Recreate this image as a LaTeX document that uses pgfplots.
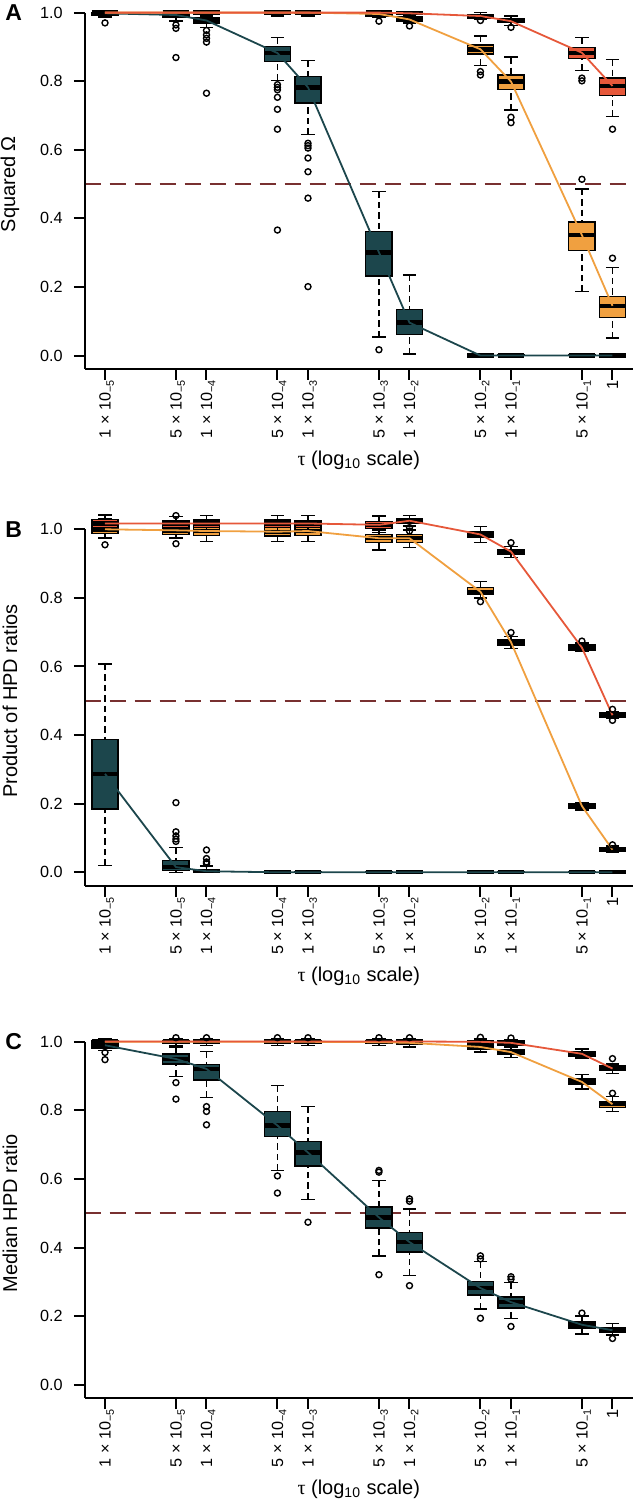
\documentclass[border=0pt]{standalone}
\usepackage{pgfplots}
\pgfplotsset{compat=1.18}
\usepgfplotslibrary{statistics}
\usepackage{fontspec}
\setmainfont{Liberation Sans}
\newfontfamily\serifg{Liberation Serif}
\definecolor{cT}{RGB}{28,70,76}
\definecolor{cO}{RGB}{240,160,64}
\definecolor{cR}{RGB}{230,88,58}
\definecolor{cD}{RGB}{120,48,48}
\newcommand\tl[2]{#1 × 10\raisebox{-1.7pt}[0pt][0pt]{\fontsize{5.4}{6}\selectfont −#2}}
\pgfplotsset{
  bxs/.style={
    boxplot/draw direction=y,
    boxplot/every box/.style={draw=black, line width=0.7pt, fill=#1},
    mark=o, mark size=1.5pt,
    mark options={draw=black, fill=none, solid, line width=0.7pt},
  },
  boxplot/draw direction=y,
  boxplot/box extend=0.26,
  boxplot/whisker extend=0.13,
  boxplot/every median/.style={draw=black, line width=2.2pt},
  boxplot/every whisker/.style={draw=black, line width=0.7pt},
  boxplot/draw/lower whisker/.code={%
    \draw[/pgfplots/boxplot/every whisker/.try, dash pattern=on 3.2pt off 2pt]
      (boxplot box cs:\pgfplotsboxplotvalue{lower whisker},0.5) --
      (boxplot box cs:\pgfplotsboxplotvalue{lower quartile},0.5);
    \draw[/pgfplots/boxplot/every whisker/.try]
      (boxplot whisker cs:\pgfplotsboxplotvalue{lower whisker},0) --
      (boxplot whisker cs:\pgfplotsboxplotvalue{lower whisker},1);
  },
  boxplot/draw/upper whisker/.code={%
    \draw[/pgfplots/boxplot/every whisker/.try, dash pattern=on 3.2pt off 2pt]
      (boxplot box cs:\pgfplotsboxplotvalue{upper whisker},0.5) --
      (boxplot box cs:\pgfplotsboxplotvalue{upper quartile},0.5);
    \draw[/pgfplots/boxplot/every whisker/.try]
      (boxplot whisker cs:\pgfplotsboxplotvalue{upper whisker},0) --
      (boxplot whisker cs:\pgfplotsboxplotvalue{upper whisker},1);
  },
  panel/.style={
    scale only axis, width=274.05pt, height=185.2pt,
    anchor=south west,
    xmin=-5.2, xmax=0.2, ymin=-0.04, ymax=1.04,
    axis lines=left,
    axis line style={-},
    x axis line style={line width=1pt},
    y axis line style={draw=none},
    clip=false,
    tick align=outside, major tick length=5.35pt,
    tick style={black, line width=1pt},
    xtick={-5,-4.30103,-4,-3.30103,-3,-2.30103,-2,-1.30103,-1,-0.30103,0},
    xticklabels={\tl15,\tl55,\tl14,\tl54,\tl13,\tl53,\tl12,\tl52,\tl11,\tl51,1},
    ytick={0,0.2,0.4,0.6,0.8,1},
    yticklabels={0.0,0.2,0.4,0.6,0.8,1.0},
    tick label style={font=\fontsize{8.1}{9}\selectfont},
    xticklabel style={rotate=90, anchor=east, inner sep=0pt},
    yticklabel style={anchor=east, inner sep=0pt, xshift=-5.5pt},
    ylabel style={font=\fontsize{10.5}{12}\selectfont},
    xlabel style={font=\fontsize{11.2}{13}\selectfont},
    every axis x label/.style={at={(axis description cs:0.5,-0.2584)}, anchor=base, inner sep=0pt},
    every axis y label/.style={at={(axis description cs:-0.1363,0.5)}, rotate=90, anchor=center, inner sep=0pt},
    xlabel={{\serifg τ} (log\textsubscript{10} scale)},
  },
}
\newcommand\bx[7]{\addplot[boxplot prepared={draw direction=y,draw position=#2,lower whisker=#3,lower quartile=#4,median=#5,upper quartile=#6,upper whisker=#7},bxs=#1] coordinates {};}
\newcommand\bxo[8]{\addplot[boxplot prepared={draw direction=y,draw position=#2,lower whisker=#3,lower quartile=#4,median=#5,upper quartile=#6,upper whisker=#7},bxs=#1] table[row sep=\\,y index=0]{v\\#8};}
\newcommand\halfline{\addplot[cD, line width=1.2pt, dash pattern=on 8.3pt off 4.2pt] coordinates {(-5.2,0.5) (0.2,0.5)};}
\newcommand\lframe{\draw[line width=1pt] (axis cs:-5.2,1) -- (axis cs:-5.2,-0.04);}
\newcommand\plab[1]{\node[anchor=west, inner sep=0pt, font=\bfseries\fontsize{11.5}{13}\selectfont] at (axis description cs:-0.1454,0.963) {#1};}

\begin{document}
\begin{tikzpicture}
\useasboundingbox (0,0) rectangle (317pt,753pt);
% ---------------- Panel A ----------------
\begin{axis}[panel, at={(42.35pt,568.35pt)}, ylabel={Squared Ω}]
\halfline
\bxo{cT}{-5}{0.985}{0.993}{0.998}{1.0}{1.0}{0.970\\}
\bxo{cT}{-4.30103}{0.975}{0.985}{0.993}{0.999}{1.0}{0.964\\0.954\\0.869\\}
\bxo{cT}{-4}{0.957}{0.969}{0.977}{0.984}{1.0}{0.948\\0.935\\0.925\\0.914\\0.765\\}
\bxo{cT}{-3.30103}{0.802}{0.857}{0.882}{0.901}{0.928}{0.790\\0.782\\0.775\\0.753\\0.718\\0.660\\0.366\\}
\bxo{cT}{-3}{0.645}{0.736}{0.782}{0.813}{0.860}{0.619\\0.612\\0.605\\0.576\\0.536\\0.459\\0.201\\}
\bxo{cT}{-2.30103}{0.054}{0.232}{0.301}{0.362}{0.478}{0.017\\}
\bx{cT}{-2}{0.004}{0.062}{0.096}{0.135}{0.235}
\bx{cT}{-1.30103}{0}{0}{0}{0.002}{0.004}
\bx{cT}{-1}{0}{0}{0}{0.002}{0.004}
\bx{cT}{-0.30103}{0}{0}{0}{0.002}{0.004}
\bx{cT}{0}{0}{0}{0}{0.002}{0.004}
%
\bx{cO}{-5}{0.99}{0.997}{1}{1}{1}
\bx{cO}{-4.30103}{0.99}{0.997}{1}{1}{1}
\bx{cO}{-4}{0.99}{0.997}{1}{1}{1}
\bx{cO}{-3.30103}{0.99}{0.997}{1}{1}{1}
\bx{cO}{-3}{0.99}{0.997}{1}{1}{1}
\bxo{cO}{-2.30103}{0.985}{0.99}{0.996}{1}{1}{0.975\\}
\bxo{cO}{-2}{0.97}{0.975}{0.98}{0.987}{0.995}{0.961\\}
\bxo{cO}{-1.30103}{0.845}{0.879}{0.893}{0.906}{0.932}{0.828\\0.818\\}
\bxo{cO}{-1}{0.716}{0.775}{0.799}{0.818}{0.870}{0.695\\0.679\\}
\bxo{cO}{-0.30103}{0.186}{0.306}{0.351}{0.389}{0.486}{0.514\\}
\bxo{cO}{0}{0.051}{0.111}{0.145}{0.172}{0.257}{0.284\\}
%
\bx{cR}{-5}{0.993}{0.998}{1}{1}{1}
\bx{cR}{-4.30103}{0.993}{0.998}{1}{1}{1}
\bx{cR}{-4}{0.993}{0.998}{1}{1}{1}
\bx{cR}{-3.30103}{0.993}{0.998}{1}{1}{1}
\bx{cR}{-3}{0.993}{0.998}{1}{1}{1}
\bx{cR}{-2.30103}{0.993}{0.998}{1}{1}{1}
\bx{cR}{-2}{0.993}{0.996}{0.998}{1}{1}
\bxo{cR}{-1.30103}{0.98}{0.984}{0.99}{0.993}{1}{0.977\\}
\bxo{cR}{-1}{0.962}{0.971}{0.975}{0.981}{0.99}{0.957\\}
\bxo{cR}{-0.30103}{0.831}{0.867}{0.883}{0.898}{0.928}{0.809\\0.801\\}
\bxo{cR}{0}{0.697}{0.758}{0.786}{0.809}{0.864}{0.660\\}
%
\addplot[cT, line width=0.9pt] coordinates {(-5,0.998) (-4.30103,0.993) (-4,0.977) (-3.30103,0.882) (-3,0.782) (-2.30103,0.301) (-2,0.096) (-1.30103,0) (-1,0) (-0.30103,0) (0,0)};
\addplot[cO, line width=0.9pt] coordinates {(-5,1) (-4.30103,1) (-4,1) (-3.30103,1) (-3,1) (-2.30103,0.996) (-2,0.98) (-1.30103,0.893) (-1,0.799) (-0.30103,0.351) (0,0.145)};
\addplot[cR, line width=0.9pt] coordinates {(-5,1) (-4.30103,1) (-4,1) (-3.30103,1) (-3,1) (-2.30103,1) (-2,0.998) (-1.30103,0.99) (-1,0.975) (-0.30103,0.883) (0,0.786)};
\lframe
\plab{A}
\end{axis}
% ---------------- Panel B ----------------
\begin{axis}[panel, at={(42.35pt,310pt)}, ylabel={Product of HPD ratios}]
\halfline
\bx{cT}{-5}{0.02}{0.184}{0.287}{0.388}{0.607}
\bxo{cT}{-4.30103}{0}{0.005}{0.015}{0.035}{0.072}{0.203\\0.118\\0.106\\0.097\\0.090\\}
\bxo{cT}{-4}{0}{0}{0.003}{0.008}{0.018}{0.065\\0.040\\0.030\\0.025\\}
\bx{cT}{-3.30103}{0}{0}{0}{0.001}{0.002}
\bx{cT}{-3}{0}{0}{0}{0.001}{0.002}
\bx{cT}{-2.30103}{0}{0}{0}{0.001}{0.002}
\bx{cT}{-2}{0}{0}{0}{0.001}{0.002}
\bx{cT}{-1.30103}{0}{0}{0}{0.001}{0.002}
\bx{cT}{-1}{0}{0}{0}{0.001}{0.002}
\bx{cT}{-0.30103}{0}{0}{0}{0.001}{0.002}
\bx{cT}{0}{0}{0}{0}{0.001}{0.002}
%
\bxo{cO}{-5}{0.975}{0.988}{1.0}{1.012}{1.03}{0.955\\}
\bxo{cO}{-4.30103}{0.975}{0.985}{0.997}{1.01}{1.025}{0.958\\}
\bx{cO}{-4}{0.965}{0.982}{0.995}{1.008}{1.025}
\bx{cO}{-3.30103}{0.965}{0.98}{0.993}{1.005}{1.025}
\bx{cO}{-3}{0.965}{0.982}{0.995}{1.007}{1.025}
\bx{cO}{-2.30103}{0.94}{0.962}{0.974}{0.985}{0.998}
\bx{cO}{-2}{0.947}{0.962}{0.974}{0.985}{0.998}
\bxo{cO}{-1.30103}{0.80}{0.811}{0.818}{0.83}{0.847}{0.789\\}
\bxo{cO}{-1}{0.653}{0.663}{0.671}{0.679}{0.688}{0.699\\}
\bx{cO}{-0.30103}{0.182}{0.187}{0.193}{0.199}{0.204}
\bxo{cO}{0}{0.058}{0.062}{0.066}{0.073}{0.077}{0.080\\}
%
\bx{cR}{-5}{0.995}{1.005}{1.017}{1.028}{1.042}
\bxo{cR}{-4.30103}{0.995}{1.005}{1.017}{1.025}{1.038}{1.040\\}
\bx{cR}{-4}{0.995}{1.005}{1.017}{1.027}{1.04}
\bx{cR}{-3.30103}{0.995}{1.005}{1.017}{1.027}{1.04}
\bx{cR}{-3}{0.995}{1.005}{1.017}{1.025}{1.04}
\bx{cR}{-2.30103}{0.99}{1.002}{1.013}{1.022}{1.039}
\bxo{cR}{-2}{1.01}{1.017}{1.025}{1.032}{1.04}{1.005\\0.995\\}
\bx{cR}{-1.30103}{0.961}{0.976}{0.985}{0.993}{1.008}
\bxo{cR}{-1}{0.918}{0.928}{0.935}{0.942}{0.95}{0.961\\}
\bxo{cR}{-0.30103}{0.645}{0.648}{0.655}{0.663}{0.668}{0.674\\}
\bxo{cR}{0}{0.45}{0.452}{0.458}{0.465}{0.468}{0.475\\0.443\\}
%
\addplot[cT, line width=0.9pt] coordinates {(-5,0.287) (-4.30103,0.015) (-4,0.003) (-3.30103,0) (-3,0) (-2.30103,0) (-2,0) (-1.30103,0) (-1,0) (-0.30103,0) (0,0)};
\addplot[cO, line width=0.9pt] coordinates {(-5,1.0) (-4.30103,0.997) (-4,0.995) (-3.30103,0.993) (-3,0.995) (-2.30103,0.974) (-2,0.974) (-1.30103,0.818) (-1,0.671) (-0.30103,0.193) (0,0.066)};
\addplot[cR, line width=0.9pt] coordinates {(-5,1.017) (-4.30103,1.017) (-4,1.017) (-3.30103,1.017) (-3,1.017) (-2.30103,1.013) (-2,1.025) (-1.30103,0.985) (-1,0.935) (-0.30103,0.655) (0,0.458)};
\lframe
\plab{B}
\end{axis}
% ---------------- Panel C ----------------
\begin{axis}[panel, at={(42.35pt,53.75pt)}, ylabel={Median HPD ratio}]
\halfline
\bxo{cT}{-5}{0.975}{0.982}{0.99}{1.0}{1.008}{0.969\\0.948\\}
\bxo{cT}{-4.30103}{0.899}{0.935}{0.95}{0.964}{0.985}{0.881\\0.833\\}
\bxo{cT}{-4}{0.838}{0.889}{0.921}{0.933}{0.972}{0.811\\0.797\\0.758\\}
\bxo{cT}{-3.30103}{0.625}{0.724}{0.756}{0.797}{0.873}{0.609\\0.559\\}
\bxo{cT}{-3}{0.541}{0.638}{0.677}{0.709}{0.811}{0.474\\}
\bxo{cT}{-2.30103}{0.376}{0.457}{0.488}{0.518}{0.596}{0.625\\0.620\\0.321\\}
\bxo{cT}{-2}{0.319}{0.387}{0.416}{0.444}{0.512}{0.542\\0.535\\0.289\\}
\bxo{cT}{-1.30103}{0.221}{0.262}{0.282}{0.301}{0.359}{0.376\\0.367\\0.194\\}
\bxo{cT}{-1}{0.194}{0.224}{0.241}{0.256}{0.298}{0.315\\0.308\\0.170\\}
\bxo{cT}{-0.30103}{0.148}{0.165}{0.175}{0.183}{0.201}{0.209\\}
\bxo{cT}{0}{0.145}{0.153}{0.159}{0.165}{0.178}{0.135\\}
%
\bx{cO}{-5}{0.99}{0.996}{0.999}{1.002}{1.006}
\bxo{cO}{-4.30103}{0.99}{0.996}{0.999}{1.002}{1.006}{1.012\\}
\bx{cO}{-4}{0.99}{0.996}{0.999}{1.002}{1.006}
\bxo{cO}{-3.30103}{0.99}{0.996}{0.999}{1.002}{1.006}{1.012\\}
\bx{cO}{-3}{0.99}{0.996}{0.999}{1.002}{1.006}
\bx{cO}{-2.30103}{0.99}{0.995}{0.999}{1.002}{1.006}
\bx{cO}{-2}{0.985}{0.993}{0.997}{1.0}{1.004}
\bx{cO}{-1.30103}{0.97}{0.979}{0.985}{0.992}{1.0}
\bx{cO}{-1}{0.955}{0.964}{0.97}{0.977}{0.985}
\bx{cO}{-0.30103}{0.862}{0.875}{0.883}{0.891}{0.904}
\bxo{cO}{0}{0.797}{0.809}{0.818}{0.825}{0.84}{0.850\\}
%
\bx{cR}{-5}{0.995}{0.998}{1.001}{1.004}{1.008}
\bx{cR}{-4.30103}{0.995}{0.998}{1.001}{1.004}{1.008}
\bxo{cR}{-4}{0.995}{0.998}{1.001}{1.004}{1.008}{1.012\\}
\bx{cR}{-3.30103}{0.995}{0.998}{1.001}{1.004}{1.008}
\bxo{cR}{-3}{0.995}{0.998}{1.001}{1.004}{1.008}{1.012\\}
\bxo{cR}{-2.30103}{0.995}{0.998}{1.001}{1.004}{1.008}{1.012\\}
\bxo{cR}{-2}{0.995}{0.998}{1.001}{1.004}{1.008}{1.012\\}
\bxo{cR}{-1.30103}{0.99}{0.997}{1.0}{1.004}{1.008}{1.013\\}
\bxo{cR}{-1}{0.985}{0.991}{0.996}{1.002}{1.006}{1.011\\}
\bx{cR}{-0.30103}{0.953}{0.957}{0.965}{0.972}{0.979}
\bxo{cR}{0}{0.908}{0.916}{0.922}{0.93}{0.935}{0.951\\}
%
\addplot[cT, line width=0.9pt] coordinates {(-5,0.99) (-4.30103,0.95) (-4,0.921) (-3.30103,0.756) (-3,0.677) (-2.30103,0.488) (-2,0.416) (-1.30103,0.282) (-1,0.241) (-0.30103,0.175) (0,0.159)};
\addplot[cO, line width=0.9pt] coordinates {(-5,1) (-4.30103,1) (-4,1) (-3.30103,1) (-3,1) (-2.30103,0.999) (-2,0.997) (-1.30103,0.985) (-1,0.97) (-0.30103,0.883) (0,0.818)};
\addplot[cR, line width=0.9pt] coordinates {(-5,1.001) (-4.30103,1.001) (-4,1.001) (-3.30103,1.001) (-3,1.001) (-2.30103,1.001) (-2,1.001) (-1.30103,1.0) (-1,0.997) (-0.30103,0.965) (0,0.922)};
\lframe
\plab{C}
\end{axis}
\end{tikzpicture}
\end{document}
